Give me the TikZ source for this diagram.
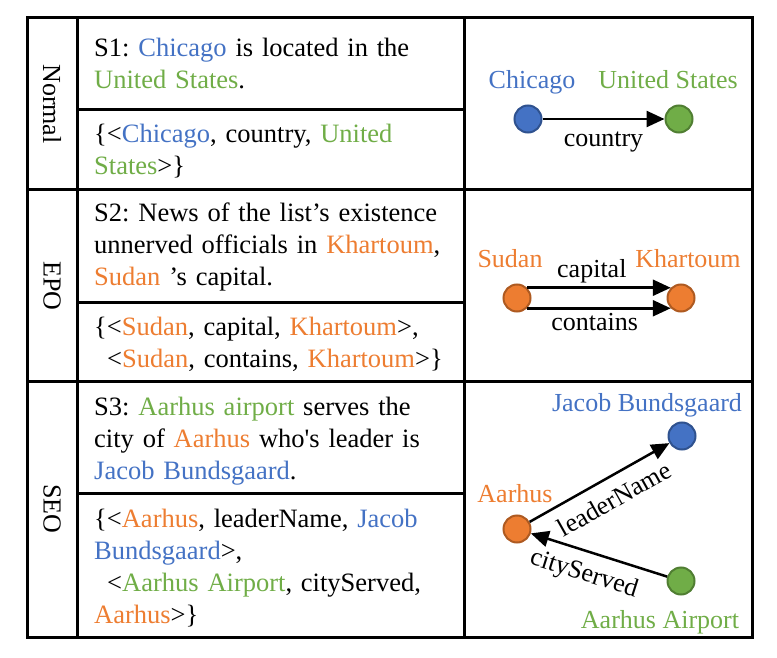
\documentclass[tikz,border=0pt]{standalone}
\usepackage{fontspec}
\setmainfont{Liberation Serif}
\usetikzlibrary{arrows.meta}
\frenchspacing

\definecolor{entblue}{HTML}{4472C4}
\definecolor{entblueD}{HTML}{2F528F}
\definecolor{entorange}{HTML}{ED7D31}
\definecolor{entorangeD}{HTML}{AE5A21}
\definecolor{entgreen}{HTML}{70AD47}
\definecolor{entgreenD}{HTML}{507E32}

\newcommand{\eb}[1]{\textcolor{entblue}{#1}}
\newcommand{\eo}[1]{\textcolor{entorange}{#1}}
\newcommand{\eg}[1]{\textcolor{entgreen}{#1}}

\tikzset{
  tabline/.style={line width=3pt},
  cell/.style={anchor=base west, align=left, text width=365pt, inner sep=0pt,
    font=\fontsize{26.5}{32}\selectfont},
  rowname/.style={rotate=-90, inner sep=0pt, font=\fontsize{26}{30}\selectfont},
  ent/.style={circle, draw, line width=2pt, minimum size=27pt, inner sep=0pt},
  lab/.style={anchor=base, inner sep=0pt, font=\fontsize{26}{30}\selectfont},
  rel/.style={line width=2.5pt, -{Triangle[length=18pt,width=16pt]}},
  rellab/.style={font=\fontsize{26}{30}\selectfont, inner sep=2pt}
}

\begin{document}
\begin{tikzpicture}[x=1pt, y=-1pt]
    \useasboundingbox (0,0) rectangle (777,658);

    % Table
    \draw[tabline] (27,18) rectangle (752,637);
    \draw[tabline] (77,18) -- (77,637) (464,18) -- (464,637);
    \draw[tabline] (27,190) -- (752,190) (27,381) -- (752,381);
    \draw[tabline] (77,110) -- (464,110) (77,302) -- (464,302) (77,493) -- (464,493);

    % Row names
    \node[rowname] (normal) at (52,104) {Normal};
    \node[rowname] (epo) at (52,286) {EPO};
    \node[rowname] (seo) at (52,509) {SEO};

    % Sentences and triples
    \node[cell] (s1) at (94,57) {S1: \eb{Chicago} is located in the\\ \eg{United States}.};
    \node[cell] (t1) at (94,143) {\{<\eb{Chicago}, country, \eg{United}\\ \eg{States}>\}};
    \node[cell] (s2) at (94,222) {S2: News of the list’s existence\\ unnerved officials in \eo{Khartoum},\\ \eo{Sudan} ’s capital.};
    \node[cell] (t2) at (94,335) {\{<\eo{Sudan}, capital, \eo{Khartoum}>,\\ \hspace*{13pt}<\eo{Sudan}, contains, \eo{Khartoum}>\}};
    \node[cell] (s3) at (94,415) {S3: \eg{Aarhus airport} serves the\\ city of \eo{Aarhus} who\textquotesingle s leader is\\ \eb{Jacob Bundsgaard}.};
    \node[cell] (t3) at (94,527) {\{<\eo{Aarhus}, leaderName, \eb{Jacob}\\ \eb{Bundsgaard}>,\\ \hspace*{13pt}<\eg{Aarhus Airport}, cityServed,\\ \eo{Aarhus}>\}};

    % Normal graph
    \node[ent, fill=entblue, draw=entblueD] (chicago) at (528,119) {};
    \node[ent, fill=entgreen, draw=entgreenD] (us) at (679,119) {};
    \node[lab, text=entblue] (chicagolab) at (532,89) {Chicago};
    \node[lab, text=entgreen] (uslab) at (668,89) {United States};
    \draw[rel] (chicago) -- (us) node[rellab, midway, below=10pt] (country) {country};

    % EPO graph
    \node[ent, fill=entorange, draw=entorangeD] (sudan) at (517,298) {};
    \node[ent, fill=entorange, draw=entorangeD] (khartoum) at (681,298) {};
    \node[lab, text=entorange] (sudanlab) at (510,267) {Sudan};
    \node[lab, text=entorange] (khartoumlab) at (688,267) {Khartoum};
    \draw[rel] (sudan.45) -- (khartoum.135) node[rellab, pos=0.45, above=1pt] (capital) {capital};
    \draw[rel] (sudan.-45) -- (khartoum.-135) node[rellab, pos=0.47, below=2pt] (contains) {contains};

    % SEO graph
    \node[ent, fill=entblue, draw=entblueD] (jacob) at (682,436) {};
    \node[ent, fill=entorange, draw=entorangeD] (aarhus) at (517,529) {};
    \node[ent, fill=entgreen, draw=entgreenD] (airport) at (681,581) {};
    \node[lab, text=entblue] (jacoblab) at (647,411) {Jacob Bundsgaard};
    \node[lab, text=entorange] (aarhuslab) at (515,502) {Aarhus};
    \node[lab, text=entgreen] (airportlab) at (660,628) {Aarhus Airport};
    \draw[rel] (aarhus) -- (jacob) node[rellab, pos=0.53, sloped, below=9pt] (leader) {leaderName};
    \draw[rel] (airport) -- (aarhus) node[rellab, pos=0.56, sloped, below=8pt] (served) {cityServed};
\end{tikzpicture}
\end{document}
